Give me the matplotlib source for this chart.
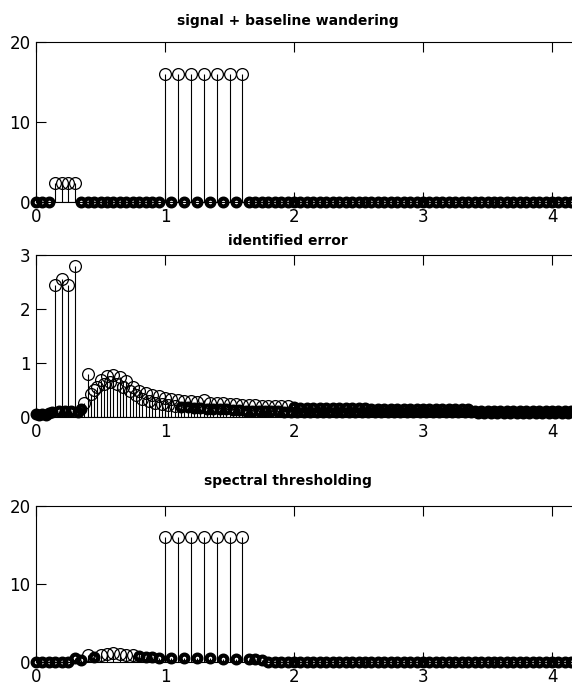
import numpy as np
import matplotlib
matplotlib.use('Agg')
import matplotlib.pyplot as plt

# sample grid of the stems (0.05 steps)
x = np.round(np.arange(0, 4.16, 0.05), 3)

# top: signal + baseline wandering
sig_x = [0.15, 0.2, 0.25, 0.3, 1.0, 1.1, 1.2, 1.3, 1.4, 1.5, 1.6]
sig_y = [2.35, 2.35, 2.35, 2.35, 16, 16, 16, 16, 16, 16, 16]

# middle: identified error, two interleaved series
err_a = [0.05, 0.06, 0.08, 2.45, 2.55, 2.45, 2.80, 0.15, 0.80, 0.50,
         0.68, 0.76, 0.78, 0.74, 0.66, 0.56, 0.49, 0.44, 0.41, 0.38,
         0.36, 0.34, 0.32, 0.30, 0.29, 0.28, 0.31, 0.26, 0.25, 0.25,
         0.24, 0.24, 0.23, 0.22, 0.22, 0.21, 0.21, 0.20, 0.20, 0.20,
         0.19, 0.17, 0.17, 0.17, 0.17, 0.17, 0.17, 0.17, 0.17, 0.17,
         0.17, 0.17, 0.15, 0.15, 0.15, 0.15, 0.15, 0.15, 0.15, 0.15,
         0.15, 0.15, 0.15, 0.15, 0.15, 0.15, 0.15, 0.15, 0.11, 0.11,
         0.11, 0.11, 0.11, 0.11, 0.11, 0.11, 0.11, 0.11, 0.11, 0.11,
         0.11, 0.11, 0.11, 0.11]
err_b = [0.03, 0.04, 0.10, 0.12, 0.12, 0.12, 0.10, 0.25, 0.42, 0.56,
         0.62, 0.64, 0.62, 0.56, 0.48, 0.40, 0.34, 0.30, 0.26, 0.24,
         0.22, 0.20, 0.19, 0.18, 0.17, 0.16, 0.15, 0.15, 0.14, 0.14,
         0.13, 0.13, 0.12, 0.12, 0.12, 0.11, 0.11, 0.11, 0.10, 0.10,
         0.10, 0.10, 0.10, 0.10, 0.10, 0.10, 0.10, 0.10, 0.10, 0.10,
         0.10, 0.10, 0.09, 0.09, 0.09, 0.09, 0.09, 0.09, 0.09, 0.09,
         0.09, 0.09, 0.09, 0.09, 0.09, 0.09, 0.09, 0.09, 0.08, 0.08,
         0.08, 0.08, 0.08, 0.08, 0.08, 0.08, 0.08, 0.08, 0.08, 0.08,
         0.08, 0.08, 0.08, 0.08]

# bottom: spectral thresholding
thr = [0, 0, 0, 0, 0, 0, 0.5, 0.3, 0.9, 0.6,
       0.9, 1.0, 1.1, 1.05, 0.95, 0.85, 0.75, 0.65, 0.6, 0.55,
       16, 0.5, 16, 0.5, 16, 0.45, 16, 0.45, 16, 0.4,
       16, 0.4, 16, 0.35, 0.35, 0.3] + [0] * 48

titles = ['signal + baseline wandering', 'identified error', 'spectral thresholding']

W, H = 572, 691
fig = plt.figure(figsize=(W / 100, H / 100), dpi=100)

# axes boxes in pixels: (top, bottom)
boxes = [(42, 202), (255, 417), (506, 662)]
title_y = [21, 241, 481]
left, right = 36, 575


def stem(ax, xs, ys, low):
    xs = np.asarray(xs)
    ys = np.asarray(ys, dtype=float)
    ax.vlines(xs, 0, ys, colors='black', lw=0.8, zorder=2)
    small = ys < low
    # dense circles near the baseline melt into a black band
    ax.plot(xs[small], ys[small], 'o', ms=5.6, mfc='none', mec='black', mew=3.0,
            clip_on=False, zorder=3)
    ax.plot(xs[~small], ys[~small], 'o', ms=8.5, mfc='none', mec='black', mew=0.9,
            clip_on=False, zorder=3)


for i, (top, bot) in enumerate(boxes):
    ax = fig.add_axes([left / W, 1 - bot / H, (right - left) / W, (bot - top) / H])
    if i == 0:
        y0 = np.zeros(len(x))
        for sx, sy in zip(sig_x, sig_y):
            y0[np.isclose(x, sx)] = sy
        stem(ax, x, y0, 0.5)
        ax.set_ylim(0, 20)
        ax.set_yticks([0, 10, 20])
    elif i == 1:
        stem(ax, x + 0.025, err_b, 0.2)
        stem(ax, x, err_a, 0.2)
        ax.set_ylim(0, 3)
        ax.set_yticks([0, 1, 2, 3])
    else:
        stem(ax, x, thr, 0.8)
        ax.set_ylim(0, 20)
        ax.set_yticks([0, 10, 20])
    ax.axhline(0, color='black', lw=0.8, zorder=2)
    ax.set_xlim(0, (right - left) / 129.0)
    ax.set_xticks([0, 1, 2, 3, 4])
    ax.spines['right'].set_visible(False)
    for s in ['left', 'top', 'bottom']:
        ax.spines[s].set_linewidth(0.8)
    ax.tick_params(direction='in', length=7, width=0.8, top=True, right=False,
                   labelsize=12, pad=4)
    fig.text(288 / W, 1 - title_y[i] / H, titles[i], ha='center', va='center',
             fontsize=10, fontweight='bold')

fig.savefig('out.png', dpi=100)
